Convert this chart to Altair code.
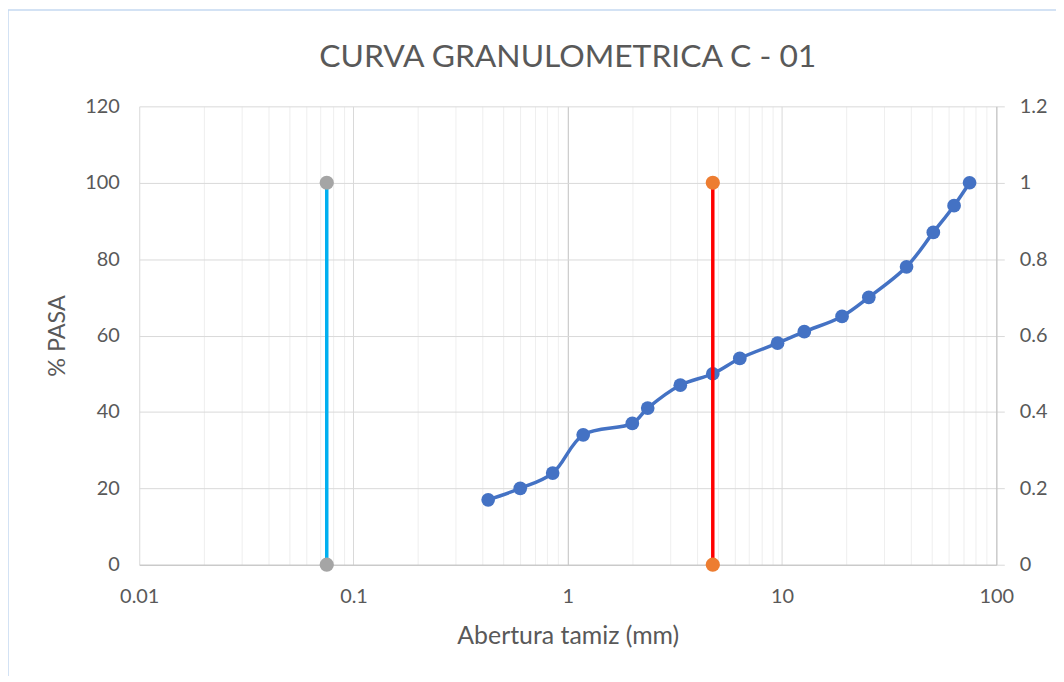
import altair as alt
import pandas as pd

# --- data ---
sizes = [0.425, 0.6, 0.85, 1.18, 2.0, 2.36, 3.35, 4.75, 6.35, 9.525, 12.7,
         19.05, 25.4, 38.1, 50.8, 63.5, 75.0]
passing = [17, 20, 24, 34, 37, 41, 47, 50, 54, 58, 61, 65, 70, 78, 87, 94, 100]

fines_x = [0.075, 0.075]
fines_y = [0, 100]
sand_x = [4.75, 4.75]
sand_y = [0, 100]

x_ticks = [0.01, 0.02, 0.03, 0.04, 0.05, 0.06, 0.07, 0.08, 0.09,
           0.1, 0.2, 0.3, 0.4, 0.5, 0.6, 0.7, 0.8, 0.9,
           1, 2, 3, 4, 5, 6, 7, 8, 9,
           10, 20, 30, 40, 50, 60, 70, 80, 90, 100]
x_labels = [0.01, 0.1, 1, 10, 100]
y_ticks = [0, 20, 40, 60, 80, 100, 120]
y2_ticks = [0, 0.2, 0.4, 0.6, 0.8, 1, 1.2]

FONT = "Lato"
TXT = "#595959"

curve_df = pd.DataFrame({"size": sizes, "pasa": passing})
vert_df = pd.DataFrame({
    "serie": ["fines"] * 2 + ["sand"] * 2,
    "x": fines_x + sand_x,
    "y": fines_y + sand_y,
})
right_df = pd.DataFrame({"v": y2_ticks})

major_test = " || ".join(f"datum.value == {v}" for v in x_labels)

x_scale = alt.Scale(type="log", domain=[0.01, 100], nice=False)
y_scale = alt.Scale(domain=[0, 120], nice=False)

x_axis = alt.Axis(
    values=x_ticks,
    labelExpr=f"({major_test}) ? format(datum.value, '~g') : ''",
    labelOverlap=False,
    labelBound=False,
    labelFlush=False,
    ticks=False,
    grid=True,
    gridColor=alt.condition("datum.value == 1", alt.value("#bfbfbf"), alt.value("#d9d9d9")),
    gridOpacity=alt.condition(major_test, alt.value(1), alt.value(0.45)),
    gridWidth=1,
    domainColor="#bfbfbf",
    domainWidth=1,
    labelFont=FONT, labelFontSize=20, labelColor=TXT, labelPadding=22,
    title="Abertura tamiz (mm)",
    titleFont=FONT, titleFontSize=25, titleColor=TXT, titleFontWeight="normal",
    titlePadding=17,
)

y_axis = alt.Axis(
    values=y_ticks,
    ticks=False,
    domain=False,
    grid=True,
    gridColor="#d9d9d9",
    labelFont=FONT, labelFontSize=20, labelColor=TXT, labelPadding=20,
    title="% PASA",
    titleFont=FONT, titleFontSize=23.5, titleColor=TXT, titleFontWeight="normal",
    titlePadding=15,
)

curve_line = alt.Chart(curve_df).mark_line(
    color="#4472C4", strokeWidth=3.5, interpolate="catmull-rom"
).encode(
    x=alt.X("size:Q", scale=x_scale, axis=x_axis),
    y=alt.Y("pasa:Q", scale=y_scale, axis=y_axis),
)
curve_pts = alt.Chart(curve_df).mark_circle(
    color="#4472C4", size=190, opacity=1
).encode(
    x=alt.X("size:Q", scale=x_scale),
    y=alt.Y("pasa:Q", scale=y_scale),
)

vert_lines = alt.Chart(vert_df).mark_line(strokeWidth=3.5).encode(
    x=alt.X("x:Q", scale=x_scale),
    y=alt.Y("y:Q", scale=y_scale),
    detail="serie:N",
    color=alt.Color("serie:N", scale=alt.Scale(domain=["fines", "sand"],
                                               range=["#00B0F0", "#FF0000"]),
                    legend=None),
)
vert_pts = alt.Chart(vert_df).mark_circle(size=205, opacity=1).encode(
    x=alt.X("x:Q", scale=x_scale),
    y=alt.Y("y:Q", scale=y_scale),
    fill=alt.Fill("serie:N", scale=alt.Scale(domain=["fines", "sand"],
                                             range=["#A5A5A5", "#ED7D31"]),
                  legend=None),
)

main = alt.layer(curve_line, curve_pts, vert_lines, vert_pts)

right = alt.Chart(right_df).mark_point(opacity=0).encode(
    y=alt.Y("v:Q", scale=alt.Scale(domain=[0, 1.2], nice=False),
            axis=alt.Axis(orient="right", values=y2_ticks, grid=False,
                          labelExpr="format(datum.value, '~g')",
                          domain=True, domainColor="#bfbfbf",
                          ticks=True, tickSize=8, tickColor="#d9d9d9",
                          labelFont=FONT, labelFontSize=20, labelColor=TXT,
                          labelPadding=15, title=None)),
)

frame = alt.Chart(alt.Data(values=[{}])).mark_rect(
    fillOpacity=0, stroke="#c5d9f1", strokeWidth=1.5
).encode(
    x=alt.value(-132), x2=alt.value(1100),
    y=alt.value(-97), y2=alt.value(700),
)

chart = alt.layer(main, right, frame).resolve_scale(
    y="independent"
).properties(
    width=862, height=461,
    title=alt.TitleParams("CURVA GRANULOMETRICA C - 01", font=FONT, fontSize=32,
                          color=TXT, fontWeight="normal", anchor="middle",
                          baseline="alphabetic", offset=0, dy=90),
    autosize=alt.AutoSizeParams(type="none"),
    padding={"left": 132, "top": 97, "right": 60, "bottom": 110},
).configure_view(stroke=None)

chart.save("out.html", embed_options={"renderer": "svg", "actions": False})
